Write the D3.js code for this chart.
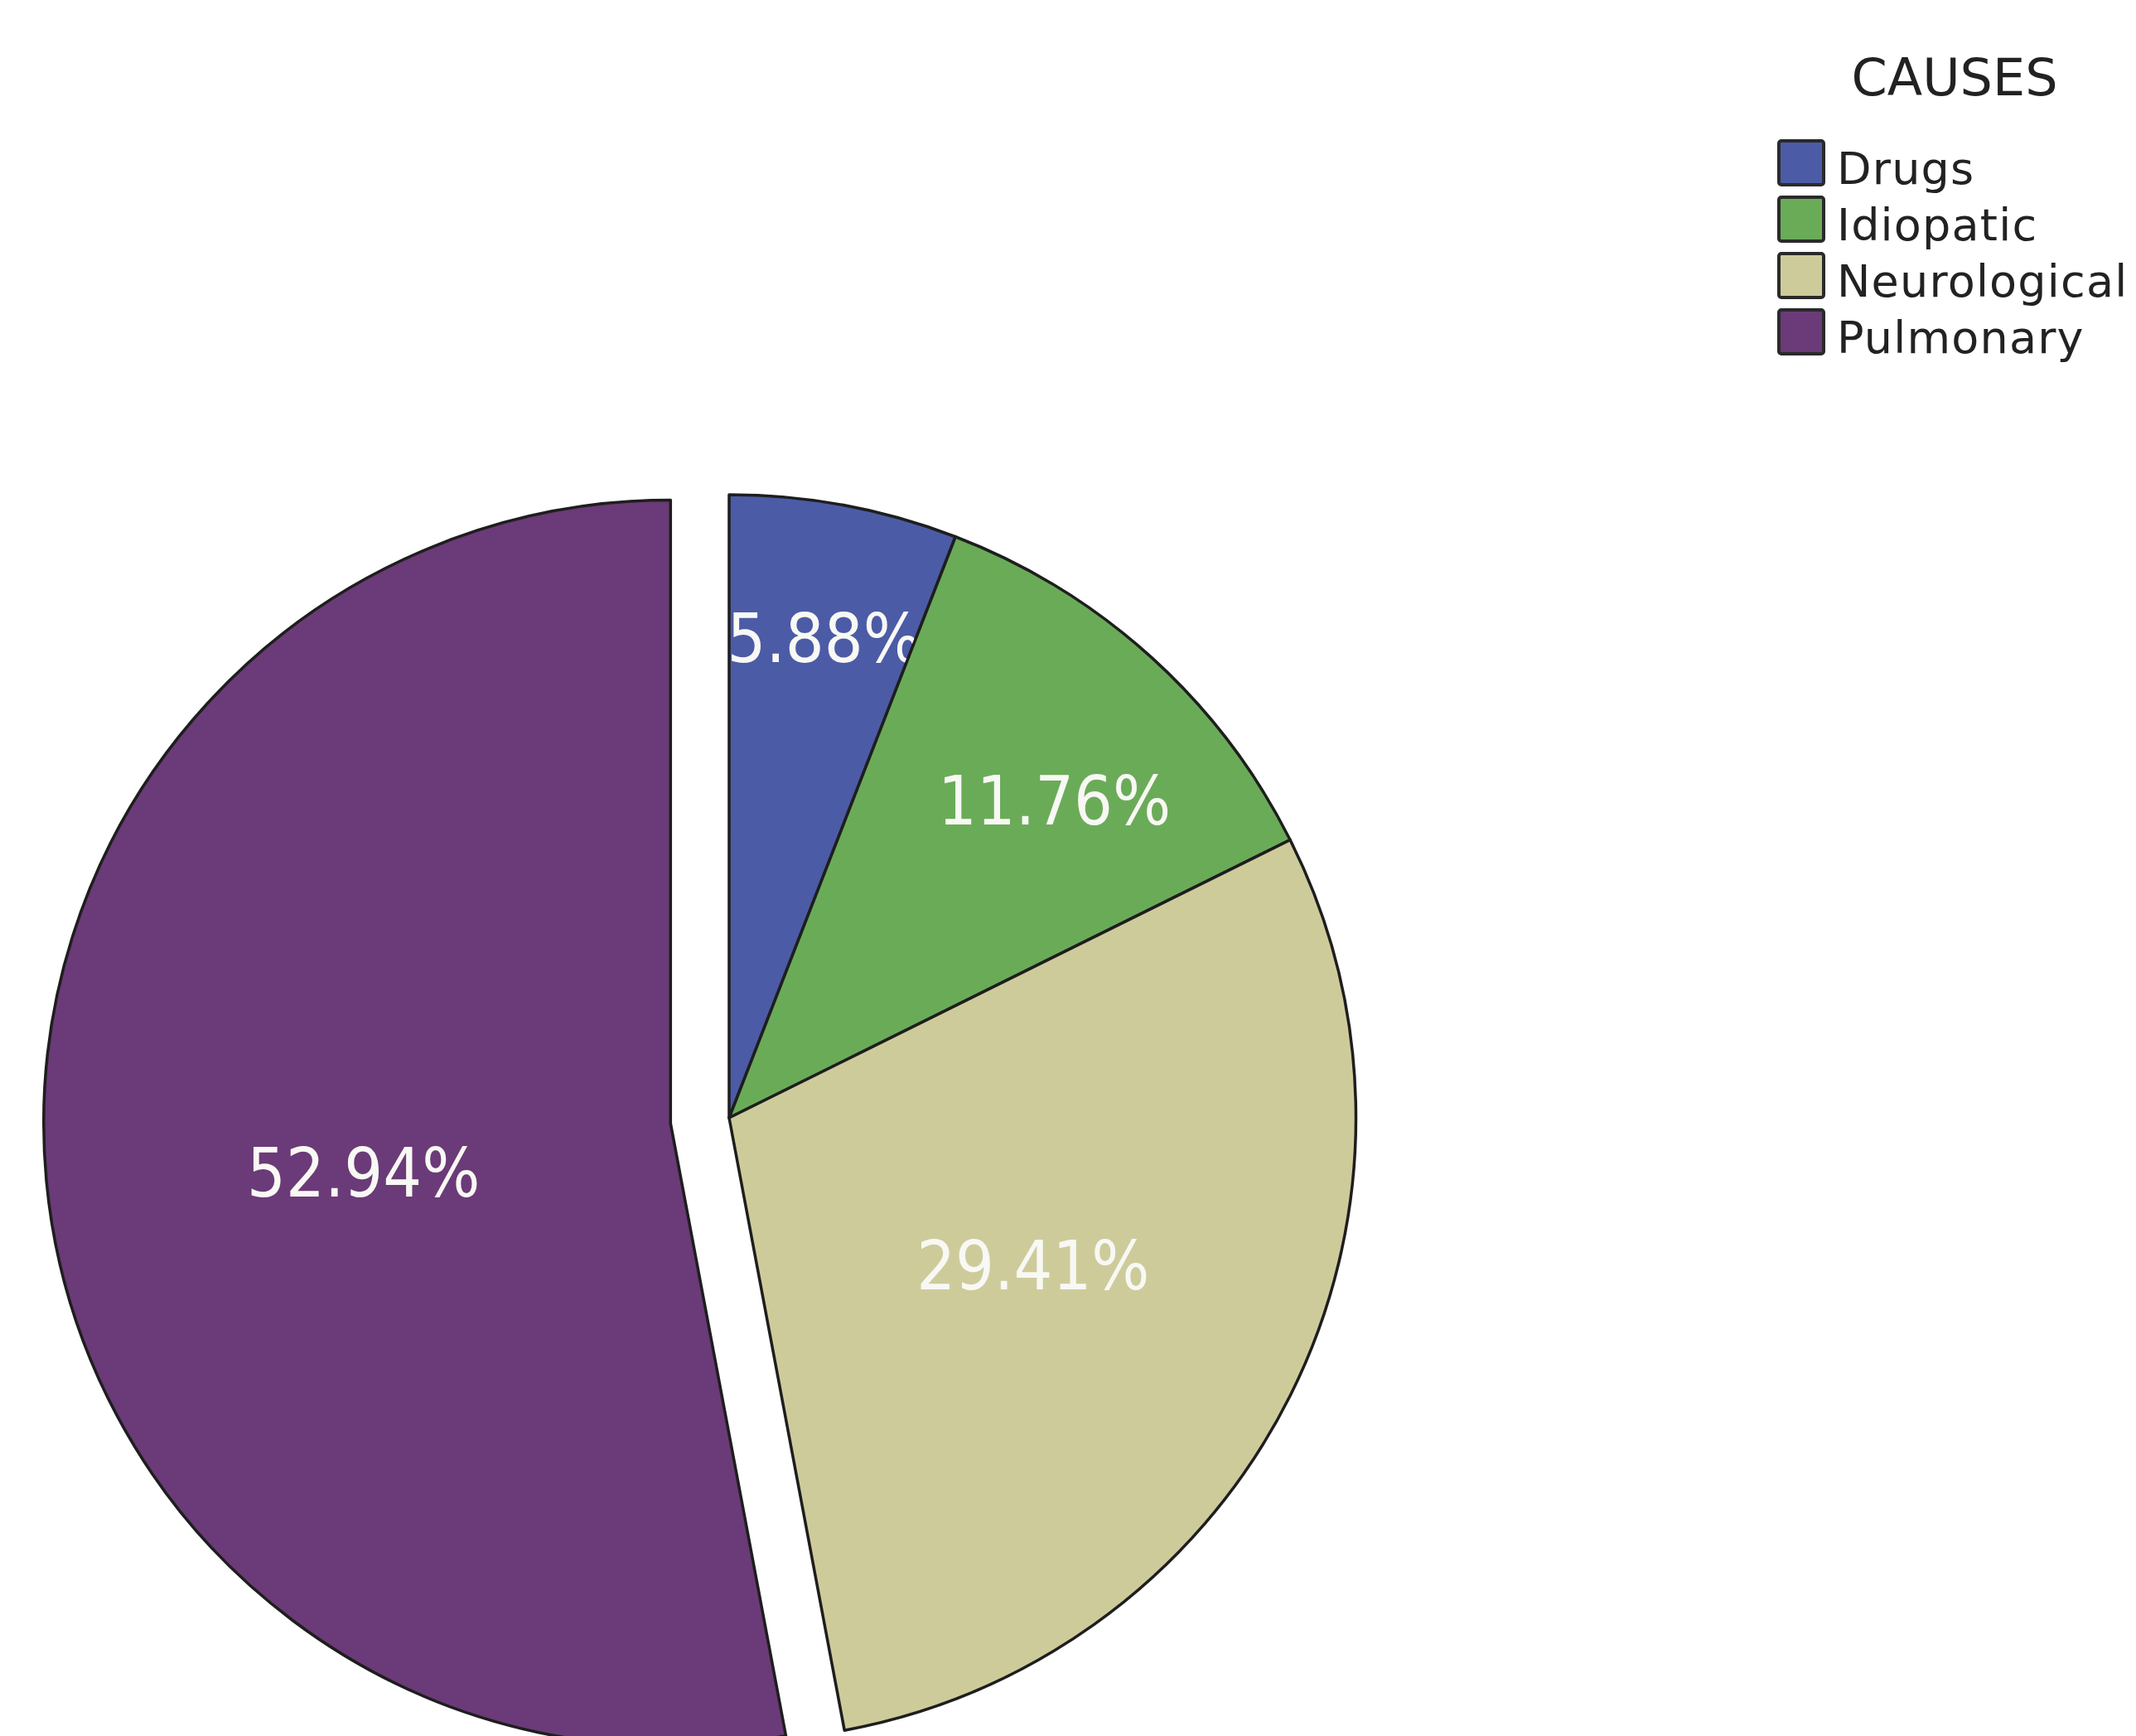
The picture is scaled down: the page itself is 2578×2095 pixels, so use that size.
<!DOCTYPE html>
<html>
<head>
<meta charset="utf-8">
<script src="https://cdn.jsdelivr.net/npm/d3@7"></script>
<style>
  body { margin: 0; background: #fff; }
  svg { display: block; }
</style>
</head>
<body>
<div id="chart"></div>
<script>
var causes = ['Drugs', 'Idiopatic', 'Neurological', 'Pulmonary'];
var percents = [5.88, 11.76, 29.41, 52.94];
var colors = ['#4c5ba6', '#6aab58', '#cecb9b', '#6b3a78'];
var exploded = ['Pulmonary'];

var width = 2578, height = 2095;
var cx = 880, cy = 1349, radius = 752;
var explodeBy = 71;
// label placement inside each slice: share of radius and small angle nudge (deg)
var labelRadius = [0.786, 0.73, 0.542, 0.499];
var labelNudge = [0.6, 3.3, -0.6, -3.7];

var svg = d3.select('#chart')
  .append('svg')
  .attr('width', width)
  .attr('height', height);

var data = causes.map(function(c, i) { return {cause: c, value: percents[i], idx: i}; });

var pie = d3.pie()
  .sort(null)
  .value(function(d) { return d.value; });

var arc = d3.arc()
  .innerRadius(0)
  .outerRadius(radius);

var color = d3.scaleOrdinal().domain(causes).range(colors);

var arcs = pie(data);

function offset(d) {
  if (exploded.indexOf(d.data.cause) < 0) return [0, 0];
  var a = (d.startAngle + d.endAngle) / 2;
  return [Math.sin(a) * explodeBy, -Math.cos(a) * explodeBy];
}

var g = svg.append('g')
  .attr('transform', 'translate(' + cx + ',' + cy + ')');

var slices = g.selectAll('g.slice')
  .data(arcs)
  .enter()
  .append('g')
  .attr('class', 'slice')
  .attr('transform', function(d) { var o = offset(d); return 'translate(' + o[0] + ',' + o[1] + ')'; });

// the original pie is a touch wider than tall
slices.append('path')
  .attr('d', arc)
  .attr('transform', 'scale(1.006,1)')
  .attr('fill', function(d) { return color(d.data.cause); })
  .attr('stroke', '#1e1e1e')
  .attr('stroke-width', 3.5)
  .attr('stroke-linejoin', 'round');

slices.append('text')
  .attr('transform', function(d) {
    var a = (d.startAngle + d.endAngle) / 2 + labelNudge[d.data.idx] * Math.PI / 180;
    var r = radius * labelRadius[d.data.idx];
    return 'translate(' + (Math.sin(a) * r) + ',' + (-Math.cos(a) * r) + ')';
  })
  .attr('text-anchor', 'middle')
  .attr('dy', '0.36em')
  .style('font-family', '"DejaVu Sans Condensed", "DejaVu Sans", sans-serif')
  .style('font-stretch', 'condensed')
  .style('font-size', '82px')
  .style('fill', '#f8f8f4')
  .text(function(d) { return d.data.value.toFixed(2) + '%'; });

// legend
var legend = svg.append('g')
  .attr('transform', 'translate(2145,0)');

legend.append('text')
  .attr('x', 214)
  .attr('y', 115)
  .attr('text-anchor', 'middle')
  .style('font-family', '"DejaVu Sans", sans-serif')
  .style('font-size', '62px')
  .style('fill', '#222')
  .text('CAUSES');

var rows = legend.selectAll('g.row')
  .data(causes)
  .enter()
  .append('g')
  .attr('class', 'row')
  .attr('transform', function(d, i) { return 'translate(0,' + (168 + i * 68) + ')'; });

rows.append('rect')
  .attr('x', 2)
  .attr('y', 2)
  .attr('width', 54)
  .attr('height', 53)
  .attr('rx', 3)
  .attr('fill', function(d) { return color(d); })
  .attr('stroke', '#2a2a2a')
  .attr('stroke-width', 4);

rows.append('text')
  .attr('x', 72)
  .attr('y', 54)
  .style('font-family', '"DejaVu Sans", sans-serif')
  .style('font-size', '54px')
  .style('letter-spacing', '1.2px')
  .style('fill', '#222')
  .text(function(d) { return d; });
</script>
</body>
</html>
